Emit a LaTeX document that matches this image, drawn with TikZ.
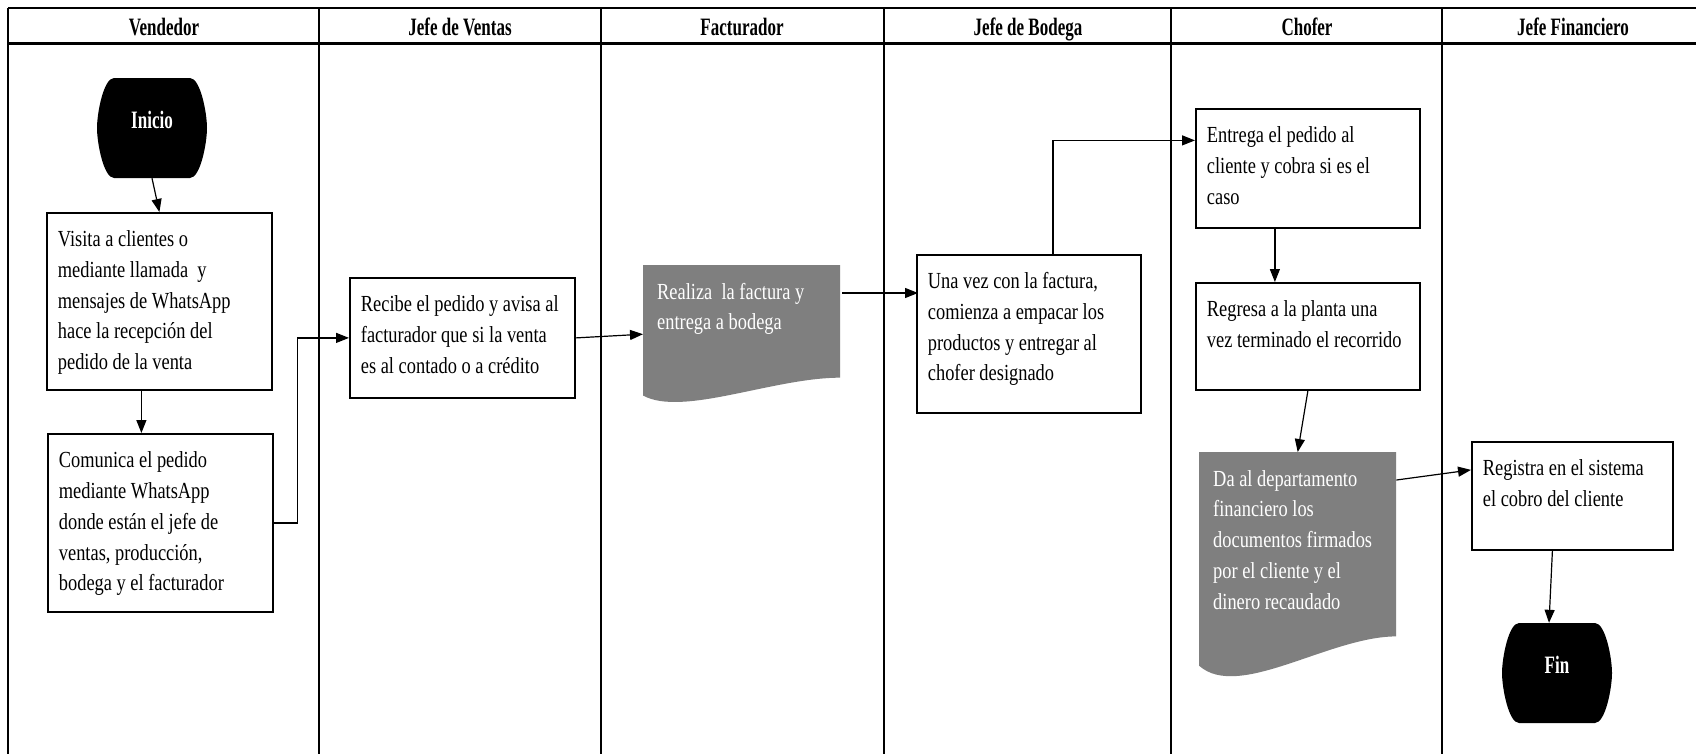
\documentclass[tikz,border=0pt]{standalone}
\usepackage{fontspec}
\setmainfont[FakeStretch=0.8]{Liberation Serif}
\newfontfamily\hdrfont[FakeStretch=0.68]{Liberation Serif}
\usetikzlibrary{arrows.meta,calc}
\definecolor{docgray}{HTML}{7F7F7F}

% top-aligned text block of fixed width and height
\newcommand{\btext}[3]{\parbox[c][#2][t]{#1}{\raggedright\vspace*{12.5pt}\strut #3}}

\tikzset{
  bodyfont/.style={font=\fontsize{23}{30.7}\selectfont},
  headfont/.style={font=\hdrfont\bfseries\fontsize{25}{30}\selectfont},
  lanehead/.style={headfont, anchor=base, inner sep=0pt},
  procbox/.style={draw, line width=1.8pt, fill=white, inner xsep=11pt, inner ysep=0pt,
    anchor=north west, bodyfont},
  docbox/.style={inner xsep=14pt, inner ysep=0pt, anchor=north west, text=white, bodyfont,
    path picture={
      \fill[docgray] let \p1=(path picture bounding box.north west),
        \p2=(path picture bounding box.south east),
        \n1={\x2-\x1}, \n2={\y1-\y2} in
        (\p1) -- (\x2,\y1) -- (\x2,{\y2+0.185*\n2})
        .. controls ({\x2-0.34*\n1},{\y2+0.185*\n2}) and ({\x1+0.2*\n1},{\y2-0.1*\n2})
        .. (\x1,{\y2+0.055*\n2}) -- cycle;
    }},
  term/.style={minimum width=110pt, minimum height=100pt, text height=0pt, text depth=0pt,
    text=white, headfont,
    path picture={
      \fill[black] let \p1=(path picture bounding box.north west),
        \p2=(path picture bounding box.south east),
        \n1={\x2-\x1}, \n2={\y1-\y2} in
        ({\x1+0.155*\n1},\y1) -- ({\x2-0.155*\n1},\y1)
        .. controls ({\x2-0.06*\n1},\y1) and (\x2,{\y1-0.35*\n2}) .. (\x2,{\y1-0.5*\n2})
        .. controls (\x2,{\y2+0.35*\n2}) and ({\x2-0.06*\n1},\y2) .. ({\x2-0.155*\n1},\y2)
        -- ({\x1+0.155*\n1},\y2)
        .. controls ({\x1+0.06*\n1},\y2) and (\x1,{\y2+0.35*\n2}) .. (\x1,{\y1-0.5*\n2})
        .. controls (\x1,{\y1-0.35*\n2}) and ({\x1+0.06*\n1},\y1) .. cycle;
    }},
  flow/.style={line width=1.2pt, -{Triangle[length=13pt,width=10pt]}},
  lanerule/.style={line width=2.7pt}
}

\begin{document}
\begin{tikzpicture}[x=1pt, y=-1pt]
\clip (0,0) rectangle (1696,753);
\fill[white] (0,0) rectangle (1696,753);

% swimlane frame
\draw[line width=2pt] (8,8) -- (1720,8);
\draw[line width=3pt] (8,43) -- (1720,43);
\draw[line width=2pt] (8,8) -- (8,770);
\foreach \lx in {319,601,884,1171,1442}
  \draw[lanerule] (\lx,8) -- (\lx,770);

% lane titles
\node[lanehead] (h1) at (164,35) {Vendedor};
\node[lanehead] (h2) at (460,35) {Jefe de Ventas};
\node[lanehead] (h3) at (742,35) {Facturador};
\node[lanehead] (h4) at (1028,35) {Jefe de Bodega};
\node[lanehead] (h5) at (1307,35) {Chofer};
\node[lanehead] (h6) at (1573,35) {Jefe Financiero};

% steps
\node[term] (inicio) at (152,128) {Inicio};
\node[procbox] (visita) at (46,212) {\btext{203pt}{177pt}{Visita a clientes o\\ mediante llamada\ \ y\\ mensajes de WhatsApp\\ hace la recepción del\\ pedido de la venta}};
\node[procbox] (comunica) at (47,433) {\btext{203pt}{178pt}{Comunica el pedido\\ mediante WhatsApp\\ donde están el jefe de\\ ventas, producción,\\ bodega y el facturador}};
\node[procbox] (recibe) at (349,277) {\btext{203pt}{120pt}{Recibe el pedido y avisa al\\ facturador que si la venta\\ es al contado o a crédito}};
\node[docbox] (realiza) at (643,265) {\btext{169pt}{138pt}{Realiza\ \ la factura y\\ entrega a bodega}};
\node[procbox] (unavez) at (916,254) {\btext{202pt}{158pt}{Una vez con la factura,\\ comienza a empacar los\\ productos y entregar al\\ chofer designado}};
\node[procbox] (entrega) at (1195,108) {\btext{202pt}{119pt}{Entrega el pedido al\\ cliente y cobra si es el\\ caso}};
\node[procbox] (regresa) at (1195,282) {\btext{202pt}{107pt}{Regresa a la planta una\\ vez terminado el recorrido}};
\node[docbox] (daal) at (1199,452) {\btext{169pt}{226pt}{Da al departamento\\ financiero los\\ documentos firmados\\ por el cliente y el\\ dinero recaudado}};
\node[procbox] (registra) at (1471,441) {\btext{179pt}{108pt}{Registra en el sistema\\ el cobro del cliente}};
\node[term] (fin) at (1557,673) {Fin};

% connectors
\draw[flow] (inicio.south) -- (visita.north);
\draw[flow] ([xshift=-18pt]visita.south) -- ([xshift=-18pt]visita.south |- comunica.north);
\draw[flow] (comunica.east) -- ++(24,0) |- (recibe.west);
\draw[flow] (recibe.east) -- (realiza.west);
\draw[flow] ([shift={(2,28)}]realiza.north east) -- ([shift={(2,28)}]realiza.north east -| unavez.west);
\draw[flow] ([xshift=24pt]unavez.north) |- ([shift={(0,-28)}]entrega.west);
\draw[flow] ([xshift=-33pt]entrega.south) -- ([xshift=-33pt]regresa.north);
\draw[flow] (regresa.south) -- (daal.north);
\draw[flow] ([shift={(0,28)}]daal.north east) -- ([shift={(0,-26)}]registra.west);
\draw[flow] ([xshift=-20pt]registra.south) -- ([xshift=-8pt]fin.north);
\end{tikzpicture}
\end{document}
